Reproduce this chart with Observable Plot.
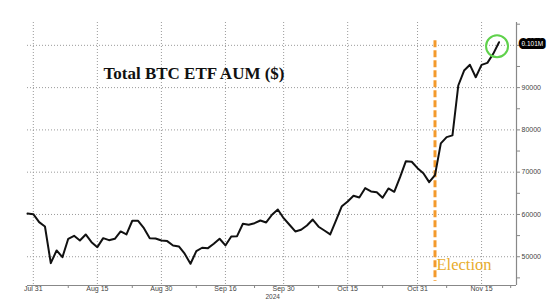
<!DOCTYPE html>
<html>
<head>
<meta charset="utf-8">
<script src="https://cdn.jsdelivr.net/npm/d3@7"></script>
<script src="https://cdn.jsdelivr.net/npm/@observablehq/plot@0.6"></script>
<style>
  html, body { margin: 0; padding: 0; background: #fff; }
</style>
</head>
<body>
<div id="chart"></div>
<script>
// ---- data (weekday series, Bloomberg weekday axis) ----
const dates = [
  "2024-07-30","2024-07-31","2024-08-01","2024-08-02",
  "2024-08-05","2024-08-06","2024-08-07","2024-08-08","2024-08-09",
  "2024-08-12","2024-08-13","2024-08-14","2024-08-15","2024-08-16",
  "2024-08-19","2024-08-20","2024-08-21","2024-08-22","2024-08-23",
  "2024-08-26","2024-08-27","2024-08-28","2024-08-29","2024-08-30",
  "2024-09-02","2024-09-03","2024-09-04","2024-09-05","2024-09-06",
  "2024-09-09","2024-09-10","2024-09-11","2024-09-12","2024-09-13",
  "2024-09-16","2024-09-17","2024-09-18","2024-09-19","2024-09-20",
  "2024-09-23","2024-09-24","2024-09-25","2024-09-26","2024-09-27",
  "2024-09-30","2024-10-01","2024-10-02","2024-10-03","2024-10-04",
  "2024-10-07","2024-10-08","2024-10-09","2024-10-10","2024-10-11",
  "2024-10-14","2024-10-15","2024-10-16","2024-10-17","2024-10-18",
  "2024-10-21","2024-10-22","2024-10-23","2024-10-24","2024-10-25",
  "2024-10-28","2024-10-29","2024-10-30","2024-10-31","2024-11-01",
  "2024-11-04","2024-11-05","2024-11-06","2024-11-07","2024-11-08",
  "2024-11-11","2024-11-12","2024-11-13","2024-11-14","2024-11-15",
  "2024-11-18","2024-11-19","2024-11-20"
];
const aum = [
  60200, 60070, 58180, 57160,
  48490, 51490, 49900, 54250, 54960,
  53850, 55270, 53450, 52270, 54400,
  53920, 54250, 55980, 55270, 58510,
  58510, 56760, 54400, 54330, 53850,
  53700, 52670, 52430, 50710, 48340,
  51320, 52130, 52030, 53070, 54250,
  52670, 54800, 54870, 57800, 57560,
  57940, 58580, 58110, 59930, 61180,
  59120, 57560, 55980, 56380, 57400,
  58800, 57100, 56200, 55300, 58600,
  61960, 63070, 64420, 64020, 66220,
  65440, 65270, 63950, 66150, 65370,
  68820, 72600, 72460, 70950, 69760,
  67640, 69300, 76800, 78300, 78700,
  90500, 94040, 95390, 92460, 95390,
  95860, 97990, 100730
];
const tickDates  = ["2024-07-31","2024-08-15","2024-08-30","2024-09-16","2024-09-30","2024-10-15","2024-10-31","2024-11-15"];
const tickLabels = ["Jul 31","Aug 15","Aug 30","Sep 16","Sep 30","Oct 15","Oct 31","Nov 15"];
const minorTickDates = ["2024-08-08","2024-08-23","2024-09-09","2024-09-23","2024-10-08","2024-10-23","2024-11-07","2024-11-22"];
const yearLabel = "2024";
const yGridValues = [50000, 60000, 70000, 80000, 90000, 100000];
const yTickLabels = [50000, 60000, 70000, 80000, 90000];
const yMinorTicks = [45000, 50000, 55000, 60000, 65000, 70000, 75000, 80000, 85000, 90000, 95000, 100000, 105000];
const electionDate = "2024-11-05";
const electionLabel = "Election";
const electionSpan = [101100, 44150];
const lastLabel = "0.101M";
const title = "Total BTC ETF AUM ($)";
const xDomainDates = ["2024-07-30", "2024-11-25"];
const yDomain = [43200, 105400];

// ---- weekday index relative to Jul 31 ----
const parse = d3.utcParse("%Y-%m-%d");
const origin = parse("2024-07-31");
function wd(s) {
  const t = parse(s);
  const [a, b, sign] = t >= origin ? [origin, t, 1] : [t, origin, -1];
  const n = d3.utcDay.range(a, b).filter(d => d.getUTCDay() !== 0 && d.getUTCDay() !== 6).length;
  return sign * n;
}
const series = dates.map((d, i) => ({x: wd(d), y: aum[i]}));
const majorIdx = tickDates.map(wd);
const minorIdx = minorTickDates.map(wd);
const electionIdx = wd(electionDate);
const last = series[series.length - 1];
const xDomain = xDomainDates.map(wd);

const gridStyle = {stroke: "#9a9a9a", strokeOpacity: 1, strokeDasharray: "1,2", strokeWidth: 1};
const sans = "'Liberation Sans', Arial, sans-serif";
const serif = "'Liberation Serif', 'Times New Roman', serif";

const chart = Plot.plot({
  width: 554,
  height: 305,
  marginLeft: 27,
  marginRight: 38,
  marginTop: 22,
  marginBottom: 20,
  style: {fontFamily: sans, background: "#fff"},
  x: {type: "linear", domain: xDomain, axis: null},
  y: {domain: yDomain, axis: null},
  marks: [
    Plot.gridY(yGridValues, gridStyle),
    Plot.gridX(majorIdx, gridStyle),
    // axis lines
    Plot.ruleY([yDomain[0]], {stroke: "#888", strokeWidth: 1.2}),
    Plot.ruleX([xDomain[1]], {stroke: "#888", strokeWidth: 1.2}),
    // minor ticks
    Plot.axisX(minorIdx, {anchor: "bottom", tickSize: 3, tickFormat: () => "", label: null, stroke: "#888"}),
    Plot.axisY(yMinorTicks, {anchor: "right", tickSize: 3, tickFormat: () => "", label: null, stroke: "#888"}),
    // x labels
    Plot.text(majorIdx, {x: d => d, text: (d, i) => tickLabels[i], frameAnchor: "bottom", dy: 5.5, fontSize: 7, fill: "#444"}),
    Plot.text([yearLabel], {x: () => majorIdx[4], frameAnchor: "bottom", dy: 13, dx: -11, fontSize: 6.5, fill: "#444"}),
    // y labels
    Plot.text(yTickLabels, {y: d => d, text: d => String(d), frameAnchor: "right", dx: 5, textAnchor: "start", fontSize: 7, fill: "#444"}),
    // election marker
    Plot.ruleX([electionIdx], {y1: electionSpan[0], y2: electionSpan[1], stroke: "#f39a2c", strokeWidth: 3, strokeDasharray: "7,3"}),
    Plot.text([electionLabel], {x: () => electionIdx, frameAnchor: "bottom", dy: -16, dx: 1.5, textAnchor: "start", fontSize: 16.5, fontFamily: serif, fill: "#e8ac2c"}),
    // series
    Plot.line(series, {x: "x", y: "y", stroke: "#111", strokeWidth: 2, strokeLinejoin: "round"}),
    Plot.dot([last], {x: "x", y: "y", r: 11, dx: -2, dy: 4, fill: "none", stroke: "#5fd14b", strokeWidth: 2}),
    // last value label
    Plot.text([last], {y: "y", text: () => lastLabel, frameAnchor: "right", dx: 5, dy: 1.5, textAnchor: "start", fontSize: 6.5, fill: "#fff", stroke: "#000", strokeWidth: 6, strokeLinejoin: "round", paintOrder: "stroke"}),
    // title
    Plot.text([title], {frameAnchor: "top-left", dx: 76, dy: 44, textAnchor: "start", fontSize: 17, fontWeight: "bold", fontFamily: serif, fill: "#111"})
  ]
});
document.getElementById("chart").appendChild(chart);
</script>
</body>
</html>
